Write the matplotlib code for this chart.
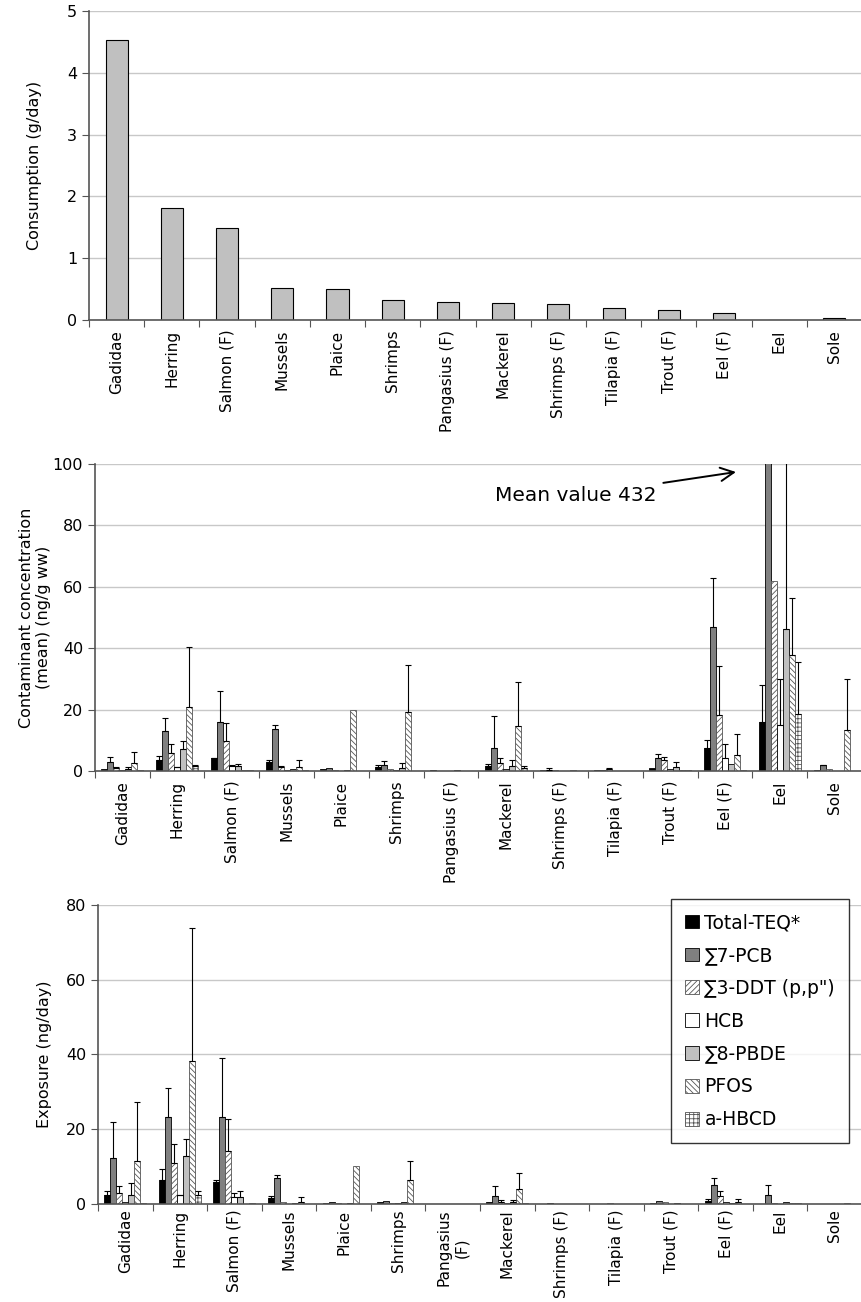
import numpy as np
import matplotlib
matplotlib.use('Agg')
import matplotlib.pyplot as plt

plt.rcParams['font.family'] = ['DejaVu Sans']
plt.rcParams['hatch.linewidth'] = 0.6

species = ['Gadidae', 'Herring', 'Salmon (F)', 'Mussels', 'Plaice', 'Shrimps',
           'Pangasius (F)', 'Mackerel', 'Shrimps (F)', 'Tilapia (F)', 'Trout (F)',
           'Eel (F)', 'Eel', 'Sole']
species_bottom = ['Gadidae', 'Herring', 'Salmon (F)', 'Mussels', 'Plaice', 'Shrimps',
                  'Pangasius\n(F)', 'Mackerel', 'Shrimps (F)', 'Tilapia (F)', 'Trout (F)',
                  'Eel (F)', 'Eel', 'Sole']

consumption = [4.53, 1.82, 1.49, 0.52, 0.51, 0.33, 0.29, 0.28, 0.26, 0.20, 0.16, 0.12, 0.003, 0.025]

contaminants = ['Total-TEQ*', '∑7-PCB', '∑3-DDT (p,p")', 'HCB', '∑8-PBDE', 'PFOS', 'a-HBCD']

# concentration (ng/g ww), rows = species, cols = contaminants
conc = [
    [0.7, 2.8, 0.9, 0.3, 0.8, 2.5, 0.2],
    [3.5, 13.0, 6.0, 1.2, 7.2, 21.0, 1.5],
    [4.2, 15.9, 9.7, 1.5, 1.5, 0.3, 0.2],
    [3.0, 13.7, 1.3, 0.3, 0.6, 1.2, 0.2],
    [0.6, 1.0, 0.3, 0.1, 0.5, 20.0, 0.1],
    [1.3, 2.0, 0.8, 0.5, 1.0, 19.2, 0.1],
    [0.3, 0.1, 0.05, 0.05, 0.2, 0.0, 0.05],
    [1.8, 7.4, 2.6, 0.8, 1.8, 14.8, 1.0],
    [0.3, 0.4, 0.2, 0.05, 0.1, 0.2, 0.1],
    [0.2, 0.5, 0.6, 0.05, 0.05, 0.0, 0.0],
    [1.0, 4.3, 3.5, 0.8, 1.2, 0.3, 0.3],
    [7.5, 47.0, 18.3, 4.4, 2.3, 5.2, 0.2],
    [16.0, 432.0, 62.0, 15.0, 46.3, 37.7, 18.7],
    [0.3, 1.9, 0.6, 0.0, 0.0, 13.3, 0.0],
]
conc_sd = [
    [0, 1.9, 0.3, 0, 0.4, 3.7, 0],
    [1.5, 4.3, 2.8, 0.1, 2.5, 19.4, 0.5],
    [0.2, 10.3, 5.8, 0.5, 0.7, 0, 0],
    [0.7, 1.3, 0.2, 0, 0, 2.5, 0],
    [0, 0, 0, 0, 0, 0, 0],
    [0.7, 1.2, 0, 0, 1.6, 15.4, 0],
    [0, 0, 0, 0, 0, 0, 0],
    [0.4, 10.4, 1.8, 0, 1.7, 14.2, 0.8],
    [0, 0.5, 0, 0, 0, 0, 0],
    [0, 0, 0.3, 0, 0, 0, 0],
    [0, 1.4, 1.1, 0, 1.7, 0, 0],
    [2.7, 16.0, 15.8, 4.4, 0, 7.0, 0],
    [12.0, 300.0, 0, 15.0, 80.0, 18.7, 16.8],
    [0, 0.2, 0, 0, 0, 16.7, 0],
]

# exposure (ng/day)
expo = [
    [2.3, 12.2, 2.8, 0.5, 2.5, 11.4, 0.3],
    [6.3, 23.3, 11.0, 2.3, 12.8, 38.3, 2.3],
    [5.9, 23.4, 14.1, 1.8, 1.8, 0.1, 0.3],
    [1.5, 7.0, 0.6, 0.1, 0.3, 0.6, 0.1],
    [0.3, 0.6, 0.2, 0.05, 0.2, 10.1, 0.05],
    [0.6, 0.8, 0.3, 0.2, 0.5, 6.5, 0.05],
    [0.05, 0.05, 0.05, 0.05, 0.05, 0.05, 0.05],
    [0.5, 2.0, 0.6, 0.2, 0.5, 4.1, 0.3],
    [0.1, 0.15, 0.05, 0.02, 0.05, 0.05, 0.02],
    [0.05, 0.1, 0.15, 0.02, 0.02, 0.0, 0.0],
    [0.3, 0.7, 0.5, 0.1, 0.2, 0.05, 0.05],
    [0.9, 5.0, 2.0, 0.5, 0.3, 0.6, 0.1],
    [0.1, 2.4, 0.3, 0.1, 0.5, 0.3, 0.2],
    [0.0, 0.05, 0.0, 0.0, 0.0, 0.3, 0.0],
]
expo_sd = [
    [1.2, 9.7, 1.9, 0, 3.0, 16.0, 0],
    [3.0, 7.7, 5.0, 0.2, 4.5, 35.5, 1.2],
    [0.6, 15.7, 8.7, 1.2, 1.7, 0, 0],
    [0.5, 0.7, 0, 0, 0, 1.3, 0],
    [0, 0, 0, 0, 0, 0, 0],
    [0, 0, 0, 0, 0, 5.0, 0],
    [0, 0, 0, 0, 0, 0, 0],
    [0, 2.8, 0.4, 0, 0.5, 4.1, 0],
    [0, 0, 0, 0, 0, 0, 0],
    [0, 0, 0, 0, 0, 0, 0],
    [0, 0, 0, 0, 0, 0, 0],
    [0.3, 2.0, 1.6, 0, 0, 0.6, 0],
    [0, 2.6, 0, 0, 0, 0, 0],
    [0, 0, 0, 0, 0, 0, 0],
]

styles = [
    dict(color='black', edgecolor='black', hatch=None),
    dict(color='#808080', edgecolor='black', hatch=None),
    dict(color='white', edgecolor='#555555', hatch='//////'),
    dict(color='white', edgecolor='black', hatch=None),
    dict(color='#c0c0c0', edgecolor='black', hatch=None),
    dict(color='white', edgecolor='#555555', hatch='\\\\\\\\\\\\'),
    dict(color='white', edgecolor='#555555', hatch='++++'),
]

GRID = '#c8c8c8'
FS = 11.5
CAT_FS = 11


def style_axis(ax, labels, ymax, step, ylabel, labelpad=10, xpad=7):
    n = len(labels)
    ax.set_xlim(-0.5, n - 0.5)
    ax.set_ylim(0, ymax)
    ax.set_yticks(np.arange(0, ymax + step / 2, step))
    ax.yaxis.grid(True, color=GRID, linewidth=1)
    ax.set_axisbelow(True)
    ax.set_xticks(np.arange(n + 1) - 0.5)
    ax.set_xticklabels([])
    ax.set_xticks(np.arange(n), minor=True)
    ax.set_xticklabels(labels, minor=True, rotation=90, fontsize=CAT_FS)
    ax.tick_params(axis='x', which='minor', length=0, pad=xpad)
    ax.tick_params(axis='x', which='major', length=5, direction='out', color='#555555')
    ax.tick_params(axis='y', length=5, direction='out', labelsize=FS, color='#555555')
    for s in ['top', 'right']:
        ax.spines[s].set_visible(False)
    for s in ['left', 'bottom']:
        ax.spines[s].set_color('#555555')
        ax.spines[s].set_linewidth(1.2)
    ax.set_ylabel(ylabel, fontsize=FS, labelpad=labelpad)


def grouped(ax, values, sds):
    values = np.array(values)
    sds = np.array(sds)
    x = np.arange(values.shape[0])
    w = 0.11
    handles = []
    for j in range(values.shape[1]):
        pos = x + (j - 3) * w
        st = styles[j]
        b = ax.bar(pos, values[:, j], width=w, color=st['color'], edgecolor=st['edgecolor'],
                   hatch=st['hatch'], linewidth=0.6, label=contaminants[j], zorder=2)
        handles.append(b)
        m = sds[:, j] > 0
        if m.any():
            ax.errorbar(pos[m], values[m, j], yerr=[np.zeros(m.sum()), sds[m, j]], fmt='none',
                        ecolor='black', elinewidth=0.8, capsize=2.5, capthick=0.8, zorder=3)
    return handles


fig = plt.figure(figsize=(8.62, 13.02), dpi=100)

ax1 = fig.add_axes([0.1033, 0.7542, 0.8967, 0.2374])
ax1.bar(np.arange(len(species)), consumption, width=0.4, color='#c0c0c0',
        edgecolor='black', linewidth=0.8, zorder=2)
style_axis(ax1, species, 5, 1, 'Consumption (g/day)', labelpad=18)

ax2 = fig.add_axes([0.110, 0.4078, 0.890, 0.2358])
grouped(ax2, conc, conc_sd)
style_axis(ax2, species, 100, 20, 'Contaminant concentration\n(mean) (ng/g ww)', labelpad=1)
ax2.annotate('Mean value 432', xy=(11.2, 97.4), xytext=(6.8, 89.6),
             fontsize=14.5, va='center', ha='left',
             arrowprops=dict(arrowstyle='->', color='black', lw=1.4, mutation_scale=24,
                             shrinkA=4, shrinkB=0))

ax3 = fig.add_axes([0.1137, 0.0753, 0.8863, 0.2296])
handles = grouped(ax3, expo, expo_sd)
style_axis(ax3, species_bottom, 80, 20, 'Exposure (ng/day)', labelpad=10, xpad=4)

leg = fig.legend(handles=handles, loc='upper left', bbox_to_anchor=(0.778, 0.3095),
                 bbox_transform=fig.transFigure, fontsize=13.5, frameon=True,
                 fancybox=False, edgecolor='black', handlelength=0.75, handleheight=0.75,
                 handletextpad=0.3, labelspacing=0.74, borderpad=0.75, borderaxespad=0)
leg.get_frame().set_linewidth(1.0)

fig.savefig('out.png', dpi=100)
